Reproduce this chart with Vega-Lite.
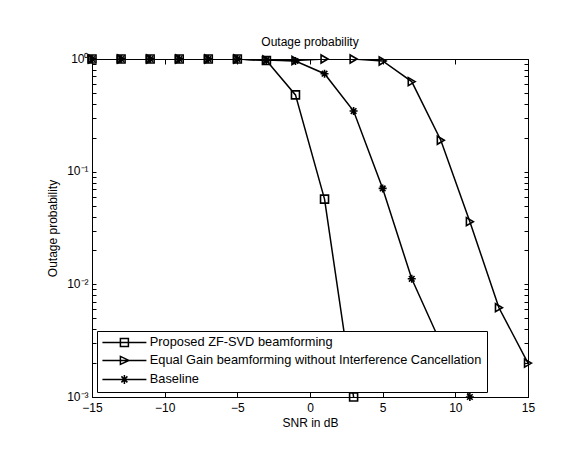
{
  "$schema": "https://vega.github.io/schema/vega-lite/v6.json",
  "width": 436,
  "height": 338,
  "autosize": {"type": "none"},
  "padding": {"left": 92, "top": 59, "right": 55, "bottom": 77},
  "background": "white",
  "title": {"text": "Outage probability", "fontSize": 12, "fontWeight": "normal", "font": "Liberation Sans", "color": "black", "offset": 3, "anchor": "middle"},
  "config": {
    "font": "Liberation Sans",
    "view": {"stroke": "black", "strokeWidth": 1},
    "axis": {"grid": false, "domainColor": "black", "tickColor": "black", "labelColor": "black", "titleColor": "black", "labelFontSize": 12, "titleFontSize": 12, "titleFontWeight": "normal", "labelFont": "Liberation Sans", "titleFont": "Liberation Sans"}
  },
  "data": {
    "values": [
      {"series": "Proposed ZF-SVD beamforming", "snr": -15, "p": 1},
      {"series": "Proposed ZF-SVD beamforming", "snr": -13, "p": 1},
      {"series": "Proposed ZF-SVD beamforming", "snr": -11, "p": 1},
      {"series": "Proposed ZF-SVD beamforming", "snr": -9, "p": 1},
      {"series": "Proposed ZF-SVD beamforming", "snr": -7, "p": 1},
      {"series": "Proposed ZF-SVD beamforming", "snr": -5, "p": 1},
      {"series": "Proposed ZF-SVD beamforming", "snr": -3, "p": 0.97},
      {"series": "Proposed ZF-SVD beamforming", "snr": -1, "p": 0.48},
      {"series": "Proposed ZF-SVD beamforming", "snr": 1, "p": 0.057},
      {"series": "Proposed ZF-SVD beamforming", "snr": 3, "p": 0.001},
      {"series": "Equal Gain beamforming without Interference Cancellation", "snr": -15, "p": 1},
      {"series": "Equal Gain beamforming without Interference Cancellation", "snr": -13, "p": 1},
      {"series": "Equal Gain beamforming without Interference Cancellation", "snr": -11, "p": 1},
      {"series": "Equal Gain beamforming without Interference Cancellation", "snr": -9, "p": 1},
      {"series": "Equal Gain beamforming without Interference Cancellation", "snr": -7, "p": 1},
      {"series": "Equal Gain beamforming without Interference Cancellation", "snr": -5, "p": 1},
      {"series": "Equal Gain beamforming without Interference Cancellation", "snr": -3, "p": 0.98},
      {"series": "Equal Gain beamforming without Interference Cancellation", "snr": -1, "p": 0.97},
      {"series": "Equal Gain beamforming without Interference Cancellation", "snr": 1, "p": 1},
      {"series": "Equal Gain beamforming without Interference Cancellation", "snr": 3, "p": 1},
      {"series": "Equal Gain beamforming without Interference Cancellation", "snr": 5, "p": 0.96},
      {"series": "Equal Gain beamforming without Interference Cancellation", "snr": 7, "p": 0.63},
      {"series": "Equal Gain beamforming without Interference Cancellation", "snr": 9, "p": 0.19},
      {"series": "Equal Gain beamforming without Interference Cancellation", "snr": 11, "p": 0.036},
      {"series": "Equal Gain beamforming without Interference Cancellation", "snr": 13, "p": 0.0062},
      {"series": "Equal Gain beamforming without Interference Cancellation", "snr": 15, "p": 0.002},
      {"series": "Baseline", "snr": -15, "p": 1},
      {"series": "Baseline", "snr": -13, "p": 1},
      {"series": "Baseline", "snr": -11, "p": 1},
      {"series": "Baseline", "snr": -9, "p": 1},
      {"series": "Baseline", "snr": -7, "p": 1},
      {"series": "Baseline", "snr": -5, "p": 1},
      {"series": "Baseline", "snr": -3, "p": 0.98},
      {"series": "Baseline", "snr": -1, "p": 0.96},
      {"series": "Baseline", "snr": 1, "p": 0.74},
      {"series": "Baseline", "snr": 3, "p": 0.345},
      {"series": "Baseline", "snr": 5, "p": 0.071},
      {"series": "Baseline", "snr": 7, "p": 0.0112},
      {"series": "Baseline", "snr": 9, "p": 0.003},
      {"series": "Baseline", "snr": 11, "p": 0.001}
    ]
  },
  "resolve": {"scale": {"shape": "independent"}, "legend": {"shape": "independent"}, "axis": {"x": "independent", "y": "independent"}},
  "layer": [
    {
      "mark": {"type": "line", "color": "black", "strokeWidth": 1.5, "clip": true},
      "encoding": {
        "x": {"field": "snr", "type": "quantitative", "scale": {"domain": [-15, 15], "nice": false, "zero": false},
              "axis": {"orient": "bottom", "values": [-15, -10, -5, 0, 5, 10, 15], "tickSize": -5, "labelPadding": 10, "title": "SNR in dB", "titlePadding": 4, "labelFlush": false}},
        "y": {"field": "p", "type": "quantitative", "scale": {"type": "log", "domain": [0.001, 1], "nice": false},
              "axis": {"orient": "left", "values": [0.001, 0.002, 0.003, 0.004, 0.005, 0.006, 0.007, 0.008, 0.009, 0.01, 0.02, 0.03, 0.04, 0.05, 0.06, 0.07, 0.08, 0.09, 0.1, 0.2, 0.3, 0.4, 0.5, 0.6, 0.7, 0.8, 0.9, 1],
                       "labelExpr": "datum.value == 1 ? '10⁰' : datum.value == 0.1 ? '10⁻¹' : datum.value == 0.01 ? '10⁻²' : datum.value == 0.001 ? '10⁻³' : ''",
                       "tickSize": -4, "labelPadding": 8, "labelOffset": -1, "title": "Outage probability", "titlePadding": 7, "labelFlush": false}},
        "detail": {"field": "series", "type": "nominal"}
      }
    },
    {
      "mark": {"type": "point", "filled": false, "color": "black", "size": 64, "strokeWidth": 1.6, "opacity": 1},
      "encoding": {
        "x": {"field": "snr", "type": "quantitative",
              "axis": {"orient": "top", "values": [-15, -10, -5, 0, 5, 10, 15], "tickSize": -5, "labels": false, "title": null, "domain": false}},
        "y": {"field": "p", "type": "quantitative",
              "axis": {"orient": "right", "values": [0.001, 0.002, 0.003, 0.004, 0.005, 0.006, 0.007, 0.008, 0.009, 0.01, 0.02, 0.03, 0.04, 0.05, 0.06, 0.07, 0.08, 0.09, 0.1, 0.2, 0.3, 0.4, 0.5, 0.6, 0.7, 0.8, 0.9, 1], "tickSize": -4, "labels": false, "title": null, "domain": false}},
        "shape": {"field": "series", "type": "nominal",
                  "scale": {"domain": ["Proposed ZF-SVD beamforming", "Equal Gain beamforming without Interference Cancellation", "Baseline"],
                            "range": ["square", "triangle-right", "M-1,0H1M0,-1V1M-0.7,-0.7L0.7,0.7M-0.7,0.7L0.7,-0.7"]},
                  "legend": null}
      }
    },
    {
      "mark": {"type": "point", "filled": false, "color": "black", "opacity": 0},
      "encoding": {
        "x": {"field": "snr", "type": "quantitative", "axis": null},
        "y": {"field": "p", "type": "quantitative", "axis": null},
        "shape": {"field": "series", "type": "nominal",
                  "scale": {"domain": ["Proposed ZF-SVD beamforming", "Equal Gain beamforming without Interference Cancellation", "Baseline"],
                            "range": ["M-1.2,0H7.6M2.4,-0.8H4V0.8H2.4Z", "M-1.2,0H7.6M2.4,-0.8L4.1,0L2.4,0.8Z", "M-1.2,0H7.6M2.4,0H4M3.2,-0.9V0.9M2.6,-0.6L3.8,0.6M2.6,0.6L3.8,-0.6"]},
                  "legend": {"title": null, "orient": "bottom-left", "offset": 5, "direction": "vertical", "padding": 5,
                             "strokeColor": "black", "fillColor": "white", "cornerRadius": 0,
                             "symbolSize": 100, "symbolStrokeColor": "black", "symbolFillColor": "transparent", "symbolStrokeWidth": 1.5,
                             "labelOffset": 35, "labelFontSize": 12.8, "labelFont": "Liberation Sans", "labelColor": "black", "labelLimit": 500, "rowPadding": 3,
                             "encode": {"symbols": {"update": {"opacity": {"value": 1}, "stroke": {"value": "black"}, "fill": {"value": "transparent"}}}}}}
      }
    }
  ]
}
